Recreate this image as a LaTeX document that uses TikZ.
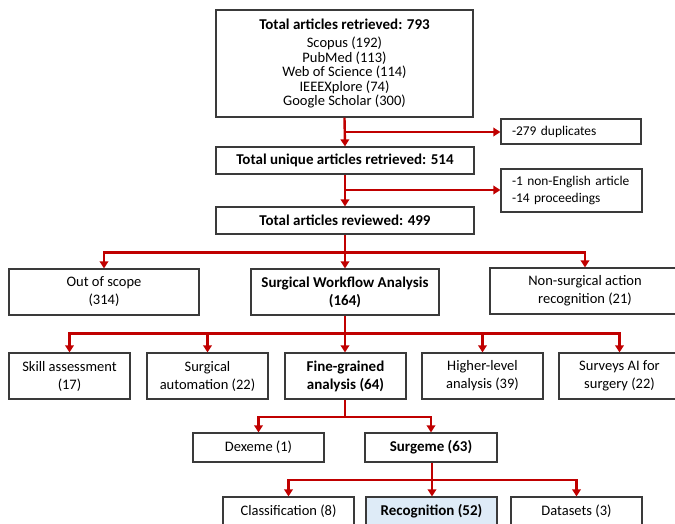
\documentclass[tikz,border=0pt]{standalone}
\usepackage{fontspec}
\setmainfont{Carlito}
\usetikzlibrary{arrows.meta}
\definecolor{conncol}{HTML}{C00000}
\definecolor{boxcol}{HTML}{3A3A3A}
\definecolor{recfill}{HTML}{DEEBF7}
\newcommand{\bt}[1]{{\fontsize{15}{18}\selectfont\bfseries #1}}
\begin{document}
\begin{tikzpicture}[x=1pt,y=-1pt,
  box/.style={draw=boxcol,line width=1.2pt,fill=white,rectangle,inner sep=0pt,align=center,
    font=\fontsize{14.5}{18}\selectfont,text=black},
  conn/.style={draw=conncol,line width=2.4pt,-{Triangle[length=7pt,width=8.5pt]}},
  line/.style={draw=conncol,line width=2.4pt}]
\useasboundingbox (0,0) rectangle (675,523);
\clip (0,0) rectangle (675,523);
% nodes
\node[box,minimum width=257pt,minimum height=107pt,font=\fontsize{14.5}{14.5}\selectfont] (top) at (344.5,63.5)
  {\bt{Total articles retrieved: 793}\\[3.5pt]Scopus (192)\\PubMed (113)\\Web of Science (114)\\IEEEXplore (74)\\Google Scholar (300)};
\node[box,minimum width=140pt,minimum height=25pt,align=left,text width=135pt,font=\fontsize{13.4}{17}\selectfont] (dup) at (571,131.5) {\hspace*{8.5pt}-279 duplicates};
\node[box,minimum width=258pt,minimum height=27pt] (uniq) at (345,160.5) {\bt{Total unique articles retrieved: 514}};
\node[box,minimum width=141pt,minimum height=43pt,align=left,text width=135pt,font=\fontsize{13.4}{17}\selectfont] (excl) at (571.5,190.5) {\hspace*{8pt}-1 non-English article\\\hspace*{8pt}-14 proceedings};
\node[box,minimum width=258pt,minimum height=27pt] (rev) at (345,220.5) {\bt{Total articles reviewed: 499}};
\node[box,minimum width=190pt,minimum height=46pt] (oos) at (104,292) {Out of scope\\(314)};
\node[box,minimum width=188pt,minimum height=46pt] (swa) at (345,292) {\bt{Surgical Workflow Analysis}\\\bt{(164)}};
\node[box,minimum width=190pt,minimum height=46pt] (nsar) at (585,291) {Non-surgical action\\recognition (21)};
\node[box,minimum width=121pt,minimum height=46pt] (skill) at (69.5,376) {Skill assessment\\(17)};
\node[box,minimum width=121pt,minimum height=46pt] (auto) at (207.5,376) {Surgical\\automation (22)};
\node[box,minimum width=121pt,minimum height=46pt] (fine) at (345.5,376) {\bt{Fine-grained}\\\bt{analysis (64)}};
\node[box,minimum width=121pt,minimum height=46pt] (higher) at (482.5,376) {Higher-level\\analysis (39)};
\node[box,minimum width=121pt,minimum height=46pt] (surveys) at (619.5,376) {Surveys AI for\\surgery (22)};
\node[box,minimum width=131pt,minimum height=29pt] (dex) at (258.5,447.5) {Dexeme (1)};
\node[box,minimum width=132pt,minimum height=29pt] (surgeme) at (431,447.5) {\bt{Surgeme (63)}};
\node[box,minimum width=131pt,minimum height=29pt] (class) at (288.5,511.5) {Classification (8)};
\node[box,minimum width=131pt,minimum height=29pt,fill=recfill] (recog) at (431.5,511.5) {\bt{Recognition (52)}};
\node[box,minimum width=131pt,minimum height=29pt] (data) at (576.5,511.5) {Datasets (3)};
% junctions
\coordinate (j1) at (345,132);
\coordinate (j2) at (345,190);
\coordinate (b1) at (345,252.5);
\coordinate (b2) at (345,333.5);
\coordinate (b3) at (345,417);
\coordinate (b4) at (432,480);
% connectors
\draw[conn] (top.south) -- (uniq.north);
\draw[conn] (j1) -- (j1 -| dup.west);
\draw[conn] (uniq.south) -- (rev.north);
\draw[conn] (j2) -- (j2 -| excl.west);
\draw[line] (rev.south) -- (b1);
\draw[conn] (b1) -| (oos.north);
\draw[conn] (b1) -| (nsar.north);
\draw[conn] (b1) -- (swa.north);
\draw[line] (swa.south) -- (b2);
\draw[conn] (b2) -| (skill.north);
\draw[conn] (b2) -| (auto.north);
\draw[conn] (b2) -- (fine.north -| b2);
\draw[conn] (b2) -| (higher.north);
\draw[conn] (b2) -| (surveys.north);
\draw[line] (fine.south -| b3) -- (b3);
\draw[conn] (b3) -| (dex.north);
\draw[conn] (b3) -| (surgeme.north);
\draw[line] (surgeme.south -| b4) -- (b4);
\draw[conn] (b4) -| (class.north);
\draw[conn] (b4) -- (recog.north -| b4);
\draw[conn] (b4) -| (data.north);
\end{tikzpicture}
\end{document}
